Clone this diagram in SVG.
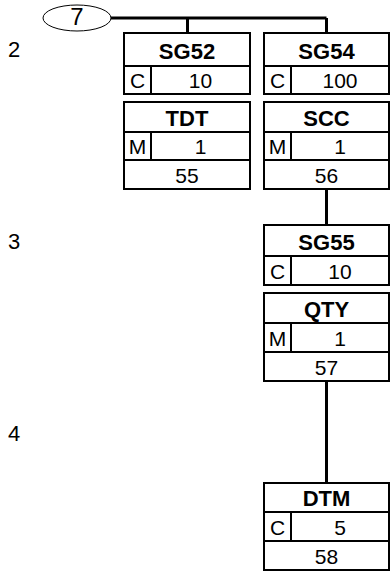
<svg xmlns="http://www.w3.org/2000/svg" width="390" height="573" viewBox="0 0 390 573">
<style>
.box{fill:#fff;stroke:#000;stroke-width:2}
.ln{stroke:#000;stroke-width:2;fill:none}
.con{stroke:#000;stroke-width:3;fill:none}
.b{font-family:"Liberation Sans",Arial,sans-serif;font-weight:bold;font-size:22px;text-anchor:middle}
.r{font-family:"Liberation Sans",Arial,sans-serif;font-size:21px;text-anchor:middle}
.lv{font-family:"Liberation Sans",Arial,sans-serif;font-size:22px}
</style>
<rect width="390" height="573" fill="#fff"/>
<g id="levels">
<text class="lv" x="8" y="57">2</text>
<text class="lv" x="8" y="249">3</text>
<text class="lv" x="8" y="441">4</text>
</g>
<g id="connectors">
<path class="con" d="M111,18 H326.5 M187.5,18 V33 M326.5,18 V33 M326.5,189 V225 M326.5,381 V483"/>
</g>
<g id="root">
<ellipse cx="77" cy="18" rx="34" ry="13" fill="#fff" stroke="#000" stroke-width="1"/>
<text class="r" x="77" y="25" style="font-size:24px">7</text>
</g>
<g id="SG52">
<rect class="box" x="124" y="33" width="126" height="61"/>
<path class="ln" d="M124,66 H250 M151,66 V94"/>
<text class="b" x="187" y="59">SG52</text>
<text class="r" x="137.5" y="88">C</text>
<text class="r" x="200.5" y="88">10</text>
</g>
<g id="TDT">
<rect class="box" x="124" y="102" width="126" height="87"/>
<path class="ln" d="M124,132 H250 M124,160 H250 M151,132 V160"/>
<text class="b" x="187" y="126">TDT</text>
<text class="r" x="137.5" y="154">M</text>
<text class="r" x="200.5" y="154">1</text>
<text class="r" x="187" y="183">55</text>
</g>
<g id="SG54">
<rect class="box" x="264" y="33" width="125" height="61"/>
<path class="ln" d="M264,66 H389 M291,66 V94"/>
<text class="b" x="326.5" y="59">SG54</text>
<text class="r" x="277.5" y="88">C</text>
<text class="r" x="340" y="88">100</text>
</g>
<g id="SCC">
<rect class="box" x="264" y="102" width="125" height="87"/>
<path class="ln" d="M264,132 H389 M264,160 H389 M291,132 V160"/>
<text class="b" x="326.5" y="126">SCC</text>
<text class="r" x="277.5" y="154">M</text>
<text class="r" x="340" y="154">1</text>
<text class="r" x="326.5" y="183">56</text>
</g>
<g id="SG55">
<rect class="box" x="264" y="225" width="125" height="60"/>
<path class="ln" d="M264,256 H389 M291,256 V285"/>
<text class="b" x="326.5" y="250">SG55</text>
<text class="r" x="277.5" y="279">C</text>
<text class="r" x="340" y="279">10</text>
</g>
<g id="QTY">
<rect class="box" x="264" y="293" width="125" height="88"/>
<path class="ln" d="M264,323 H389 M264,352 H389 M291,323 V352"/>
<text class="b" x="326.5" y="317">QTY</text>
<text class="r" x="277.5" y="346">M</text>
<text class="r" x="340" y="346">1</text>
<text class="r" x="326.5" y="375">57</text>
</g>
<g id="DTM">
<rect class="box" x="264" y="483" width="125" height="87"/>
<path class="ln" d="M264,512 H389 M264,541 H389 M291,512 V541"/>
<text class="b" x="326.5" y="506">DTM</text>
<text class="r" x="277.5" y="535">C</text>
<text class="r" x="340" y="535">5</text>
<text class="r" x="326.5" y="564">58</text>
</g>
</svg>
